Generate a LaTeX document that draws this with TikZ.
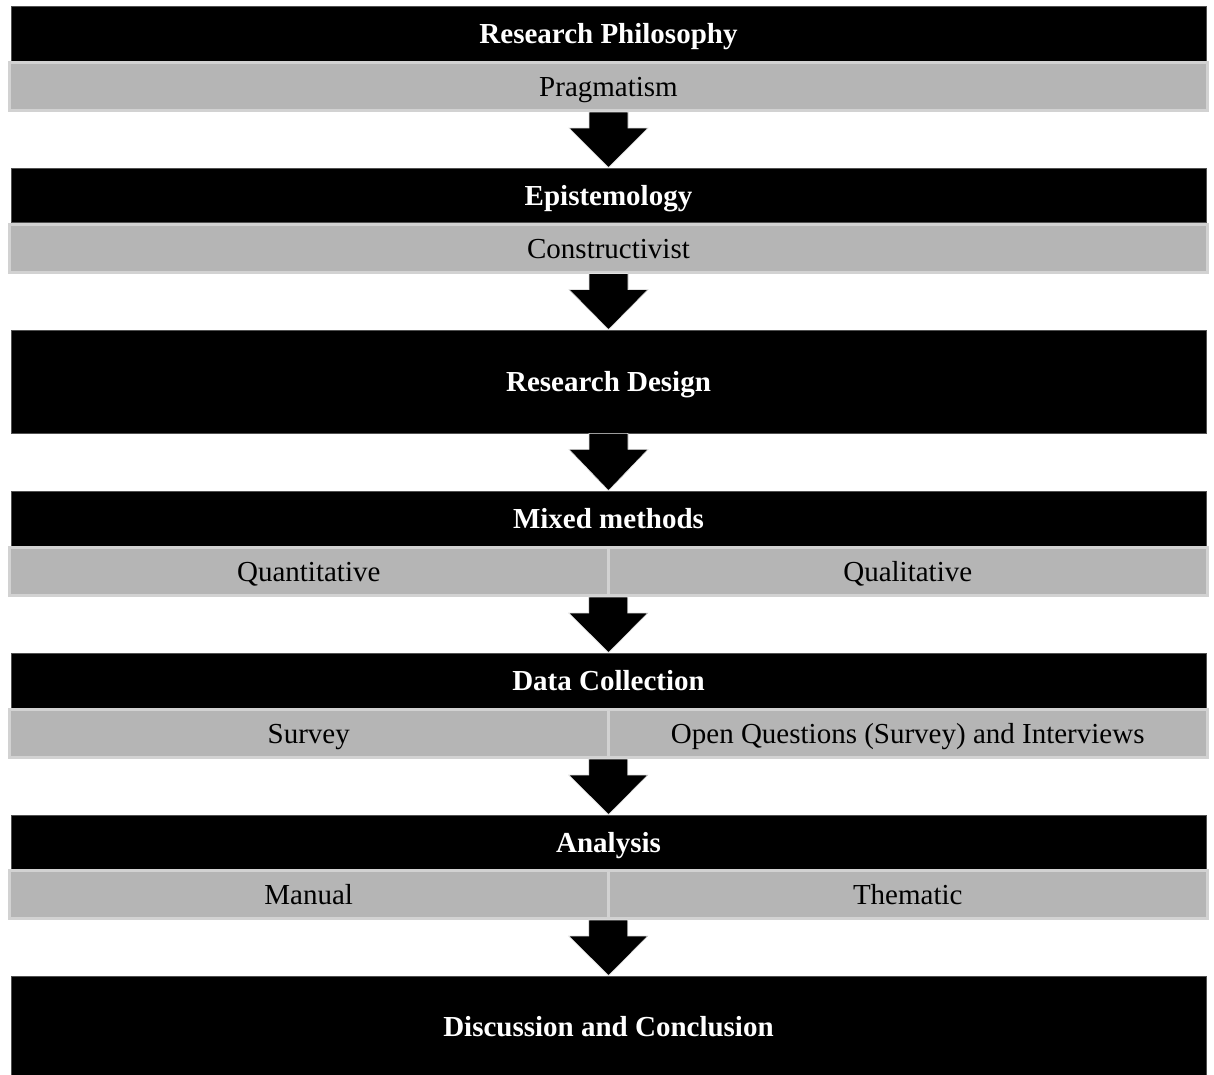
\documentclass[tikz,border=0pt]{standalone}
\usepackage{fontspec}
\setmainfont{Liberation Serif}
\usetikzlibrary{calc}
\definecolor{boxgray}{RGB}{181,181,181}
\definecolor{edgegray}{RGB}{210,210,210}
\definecolor{blackedge}{RGB}{80,80,80}
\definecolor{arrowedge}{RGB}{225,225,225}
\newcommand{\blockarr}[2]{%
  \filldraw[fill=black, draw=arrowedge, line width=0.6pt, line join=miter]
    ($(#1)+(-19.5,0)$) -- ($(#1)+(19.5,0)$) -- ($(#1)+(19.5,16)$) -- ($(#1)+(39.5,16)$)
    -- (#2.north) -- ($(#1)+(-39.5,16)$) -- ($(#1)+(-19.5,16)$) -- cycle;}
\begin{document}
\begin{tikzpicture}[x=1pt,y=-1pt,
  txt/.style={font=\fontsize{29}{34}\selectfont, text height=20pt, text depth=0pt, inner sep=0pt},
  blackbox/.style={txt, rectangle, fill=black, draw=blackedge, line width=0.8pt, text=white,
     font=\fontsize{29}{34}\selectfont\bfseries, minimum width=1195pt},
  graybox/.style={txt, rectangle, fill=boxgray, draw=edgegray, line width=3pt, text=black},
  fullgray/.style={graybox, minimum width=1198pt, minimum height=48pt},
  halfgray/.style={graybox, minimum width=598.5pt, minimum height=48pt},
]
\useasboundingbox[fill=white] (0,0) rectangle (1214,1074);

% Research Philosophy
\node[blackbox, minimum height=55pt] (b1) at (608.5,33.5) {Research Philosophy};
\node[fullgray] (g1) at (608.5,86.5) {Pragmatism};
% Epistemology
\node[blackbox, minimum height=54pt] (b2) at (608.5,195) {Epistemology};
\node[fullgray] (g2) at (608.5,248) {Constructivist};
% Research Design
\node[blackbox, minimum height=103pt] (b3) at (608.5,381.5) {Research Design};
% Mixed methods
\node[blackbox, minimum height=55pt] (b4) at (608.5,518.5) {Mixed methods};
\node[halfgray] (gl4) at (308.75,571.5) {Quantitative};
\node[halfgray] (gr4) at (907.75,571.5) {Qualitative};
% Data Collection
\node[blackbox, minimum height=55pt] (b5) at (608.5,680.5) {Data Collection};
\node[halfgray] (gl5) at (308.75,733.5) {Survey};
\node[halfgray] (gr5) at (907.75,733.5) {Open Questions (Survey) and Interviews};
% Analysis
\node[blackbox, minimum height=54pt] (b6) at (608.5,842) {Analysis};
\node[halfgray] (gl6) at (308.75,894.5) {Manual};
\node[halfgray] (gr6) at (907.75,894.5) {Thematic};
% Discussion and Conclusion
\node[blackbox, minimum height=100pt] (b7) at (608.5,1026) {Discussion and Conclusion};

% arrow start points
\coordinate (s1) at (g1.south);
\coordinate (s2) at (g2.south);
\coordinate (s3) at (b3.south);
\coordinate (s4) at ($(gl4.south east)!0.5!(gr4.south west)$);
\coordinate (s5) at ($(gl5.south east)!0.5!(gr5.south west)$);
\coordinate (s6) at ($(gl6.south east)!0.5!(gr6.south west)$);

\blockarr{s1}{b2}
\blockarr{s2}{b3}
\blockarr{s3}{b4}
\blockarr{s4}{b5}
\blockarr{s5}{b6}
\blockarr{s6}{b7}
\end{tikzpicture}
\end{document}
